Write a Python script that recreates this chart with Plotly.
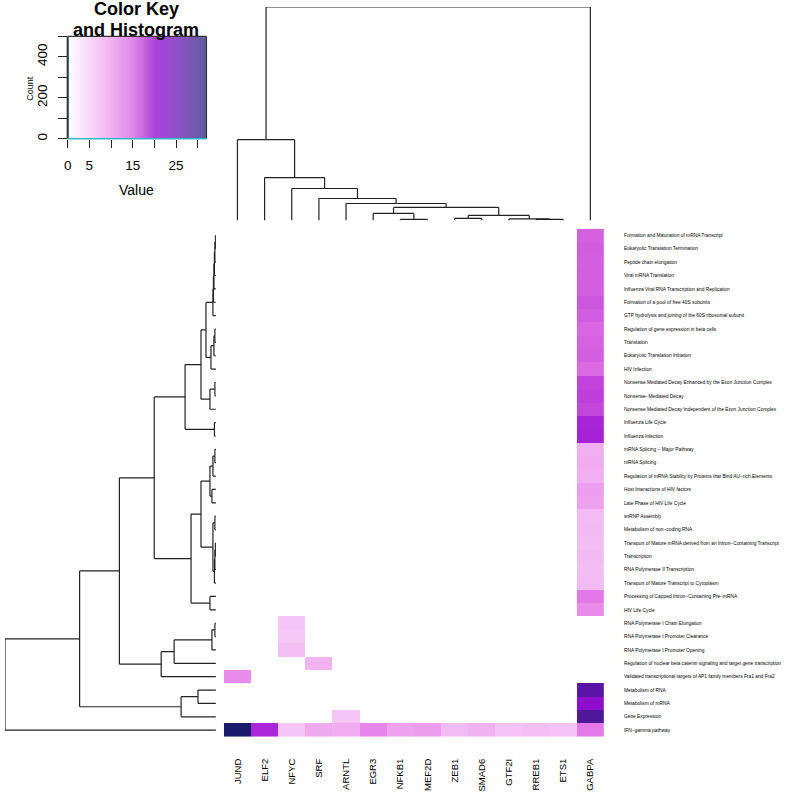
import numpy as np
import plotly.graph_objects as go

W, H = 785, 795

row_labels = [
    "Formation and Maturation of mRNA Transcript",
    "Eukaryotic Translation Termination",
    "Peptide chain elongation",
    "Viral mRNA Translation",
    "Influenza Viral RNA Transcription and Replication",
    "Formation of a pool of free 40S subunits",
    "GTP hydrolysis and joining of the 60S ribosomal subunit",
    "Regulation of gene expression in beta cells",
    "Translation",
    "Eukaryotic Translation Initiation",
    "HIV Infection",
    "Nonsense Mediated Decay Enhanced by the Exon Junction Complex",
    "Nonsense−Mediated Decay",
    "Nonsense Mediated Decay Independent of the Exon Junction Complex",
    "Influenza Life Cycle",
    "Influenza Infection",
    "mRNA Splicing − Major Pathway",
    "mRNA Splicing",
    "Regulation of mRNA Stability by Proteins that Bind AU−rich Elements",
    "Host Interactions of HIV factors",
    "Late Phase of HIV Life Cycle",
    "snRNP Assembly",
    "Metabolism of non−coding RNA",
    "Transport of Mature mRNA derived from an Intron−Containing Transcript",
    "Transcription",
    "RNA Polymerase II Transcription",
    "Transport of Mature Transcript to Cytoplasm",
    "Processing of Capped Intron−Containing Pre−mRNA",
    "HIV Life Cycle",
    "RNA Polymerase I Chain Elongation",
    "RNA Polymerase I Promoter Clearance",
    "RNA Polymerase I Promoter Opening",
    "Regulation of nuclear beta catenin signaling and target gene transcription",
    "Validated transcriptional targets of AP1 family members Fra1 and Fra2",
    "Metabolism of RNA",
    "Metabolism of mRNA",
    "Gene Expression",
    "IFN−gamma pathway",
]
col_labels = ["JUND", "ELF2", "NFYC", "SRF", "ARNTL", "EGR3", "NFKB1", "MEF2D",
              "ZEB1", "SMAD6", "GTF2I", "RREB1", "ETS1", "GABPA"]

# GABPA column (one value per row, top to bottom)
gabpa_values = [16.5, 16.8, 16.6, 16.7, 16.6, 17.3, 16.9, 15.8, 16.3, 16.6, 15.2,
                18.6, 18.9, 18.4, 21.2, 21.5, 9.0, 9.3, 9.1, 10.6, 10.2,
                8.0, 8.2, 7.9, 8.1, 7.8, 8.0, 13.2, 11.8,
                0, 0, 0, 0, 0, 27.0, 24.0, 28.5, 13.0]
# other non-zero cells: (row, column, value)
other_cells = [(29, "NFYC", 7.0), (30, "NFYC", 6.8), (31, "NFYC", 7.6),
               (32, "SRF", 8.6), (33, "JUND", 11.8), (36, "ARNTL", 7.0)]
# IFN-gamma pathway row (all columns)
ifn_row = [32.0, 21.0, 7.0, 9.6, 9.2, 12.2, 10.2, 10.6, 8.0, 8.8, 7.2, 7.6, 7.2, 13.0]

# dendrogram merges: (child_a, child_b, height); leaves are 0..n-1, node k is n+k
row_merges = [
    (0, 1, 0.5), (38, 2, 1.0), (39, 3, 1.5), (40, 4, 2.0), (41, 5, 2.5), (42, 6, 3.0),
    (7, 8, 1.0), (44, 9, 2.0), (45, 10, 5.0), (43, 46, 10.0),
    (11, 12, 1.0), (48, 13, 6.0), (47, 49, 15.0),
    (14, 15, 1.5), (50, 51, 31.0),
    (16, 17, 1.0), (53, 18, 3.0), (19, 20, 4.0), (54, 55, 6.0),
    (21, 22, 1.0), (23, 24, 0.5), (58, 25, 1.0), (59, 26, 1.5), (57, 60, 3.0),
    (56, 61, 15.0), (27, 28, 6.0), (62, 63, 25.0), (52, 64, 62.0),
    (29, 30, 1.0), (66, 31, 4.0), (67, 32, 42.0), (68, 33, 55.0), (65, 69, 97.0),
    (34, 35, 18.0), (71, 36, 35.0), (70, 72, 137.0), (73, 37, 212.0),
]
col_merges = [
    (6, 7, 1.0), (5, 14, 7.0), (8, 9, 2.0), (11, 12, 1.0), (10, 17, 1.5),
    (16, 18, 5.0), (15, 19, 13.0), (4, 20, 17.0), (3, 21, 22.0), (2, 22, 32.0),
    (1, 23, 43.0), (0, 24, 81.0), (25, 13, 214.0),
]

# ---------------------------------------------------------------- matrix
nr, nc = len(row_labels), len(col_labels)
Z = np.zeros((nr, nc))
Z[:, col_labels.index("GABPA")] = gabpa_values
for r, c, v in other_cells:
    Z[r, col_labels.index(c)] = v
Z[nr - 1, :] = ifn_row

zmax = 32.0
cell_stops = [(0, "#FFFFFF"), (7, "#F5C6F5"), (9, "#F0B0F0"), (11, "#EC98EC"),
              (13, "#E47AE8"), (16.5, "#D462E0"), (18.5, "#C244DB"), (21, "#AA26D8"),
              (24, "#8E0ECC"), (27, "#5A14A6"), (28.5, "#4F1898"), (32, "#1A1A6A")]
cell_scale = [[v / zmax, c] for v, c in cell_stops]
key_scale = [[0, "#FFFFFF"], [0.15, "#FADAFA"], [0.3, "#F3B4F3"], [0.47, "#DE88E6"],
             [0.63, "#AD42DC"], [0.8, "#8A52C4"], [1, "#5E5E9C"]]


def dendro_segments(merges, n, horizontal):
    pos = {i: float(i) for i in range(n)}
    hgt = {i: 0.0 for i in range(n)}
    xs, ys = [], []
    for k, (a, b, h) in enumerate(merges):
        node = n + k
        pa, pb = pos[a], pos[b]
        segs = [((pa, hgt[a]), (pa, h)), ((pb, hgt[b]), (pb, h)), ((pa, h), (pb, h))]
        for (p1, h1), (p2, h2) in segs:
            if horizontal:
                xs += [h1, h2, None]
                ys += [p1, p2, None]
            else:
                xs += [p1, p2, None]
                ys += [h1, h2, None]
        pos[node] = (pa + pb) / 2
        hgt[node] = h
    return xs, ys


fig = go.Figure()

# heatmap
fig.add_trace(go.Heatmap(z=Z, x=list(range(nc)), y=list(range(nr)), zmin=0, zmax=zmax,
                         colorscale=cell_scale, showscale=False, xaxis="x", yaxis="y",
                         hoverinfo="skip"))

# column dendrogram
cx, cy = dendro_segments(col_merges, nc, horizontal=False)
fig.add_trace(go.Scatter(x=cx, y=cy, mode="lines", line=dict(color="#222222", width=1.2),
                         xaxis="x3", yaxis="y3", hoverinfo="skip"))
# row dendrogram
rx, ry = dendro_segments(row_merges, nr, horizontal=True)
fig.add_trace(go.Scatter(x=rx, y=ry, mode="lines", line=dict(color="#222222", width=1.2),
                         xaxis="x4", yaxis="y4", hoverinfo="skip"))

# color key gradient (x and y given as cell edges)
kx = np.linspace(0, zmax, 321)
kc = (kx[:-1] + kx[1:]) / 2
fig.add_trace(go.Heatmap(z=[list(kc)], x=list(kx), y=[0, 500], zmin=0, zmax=zmax,
                         colorscale=key_scale, showscale=False, xaxis="x2", yaxis="y2",
                         hoverinfo="skip"))
# histogram of values
counts, edges = np.histogram(Z.ravel(), bins=kx)
hx = list(edges[:-1]) + [edges[-1]]
hy = list(counts) + [counts[-1]]
fig.add_trace(go.Scatter(x=hx, y=hy, mode="lines", line=dict(color="cyan", width=1, shape="hv"),
                         xaxis="x2", yaxis="y2", hoverinfo="skip"))

FONT = "Liberation Sans, Arial, Helvetica, sans-serif"


def px_dom_x(a, b):
    return [a / W, b / W]


def px_dom_y(top, bottom):
    return [1 - bottom / H, 1 - top / H]


hm_x = px_dom_x(221, 603)
hm_y = px_dom_y(229.3, 738.7)

fig.update_layout(
    width=W, height=H, margin=dict(l=0, r=0, t=0, b=0),
    paper_bgcolor="white", plot_bgcolor="white", showlegend=False,
    font=dict(family=FONT, color="black"),
    xaxis=dict(domain=hm_x, range=[-0.5, nc - 0.5], anchor="y", tickmode="array",
               tickvals=list(range(nc)), ticktext=col_labels, tickangle=-90,
               ticks="", ticklabelstandoff=19, tickfont=dict(size=9.5, family=FONT),
               showgrid=False, zeroline=False, showline=False, fixedrange=True),
    yaxis=dict(domain=hm_y, range=[nr - 0.5, -0.5], anchor="x", side="right",
               tickmode="array", tickvals=list(range(nr)), ticktext=row_labels,
               ticks="", ticklabelstandoff=19, tickfont=dict(size=4.85, family=FONT),
               showgrid=False, zeroline=False, showline=False, fixedrange=True),
    xaxis2=dict(domain=px_dom_x(64, 203.5), range=[0, zmax], anchor="y2",
                tickmode="array", tickvals=[0, 5, 10, 15, 20, 25, 30],
                ticktext=["0", "5", "", "15", "", "25", ""],
                ticks="outside", ticklen=8, tickwidth=1, tickcolor="#222222",
                ticklabelstandoff=6, tickfont=dict(size=13.5, family=FONT),
                showline=False, showgrid=False, zeroline=False),
    yaxis2=dict(domain=px_dom_y(36.5, 139), range=[0, 500], anchor="x2",
                tickmode="array", tickvals=[0, 100, 200, 300, 400, 500],
                ticktext=["0", "", "200", "", "400", ""], tickangle=-90,
                ticks="outside", ticklen=9, tickwidth=1, tickcolor="#222222",
                ticklabelstandoff=5, tickfont=dict(size=13.5, family=FONT),
                showline=False, showgrid=False, zeroline=False),
    xaxis3=dict(domain=hm_x, range=[-0.5, nc - 0.5], anchor="y3", visible=False),
    yaxis3=dict(domain=px_dom_y(7, 221), range=[0, 214], anchor="x3", visible=False),
    xaxis4=dict(domain=px_dom_x(1, 213), range=[212, 0], anchor="y4", visible=False),
    yaxis4=dict(domain=hm_y, range=[nr - 0.5, -0.5], anchor="x4", visible=False),
    shapes=[
        # left/top/right frame of the key (bottom edge shows the histogram baseline)
        dict(type="line", xref="x2 domain", yref="y2 domain", x0=0, x1=0, y0=0, y1=1,
             line=dict(color="#333333", width=2), layer="above"),
        dict(type="line", xref="x2 domain", yref="y2 domain", x0=0, x1=1, y0=1, y1=1,
             line=dict(color="#333333", width=1.2), layer="above"),
        dict(type="line", xref="x2 domain", yref="y2 domain", x0=1, x1=1, y0=0, y1=1,
             line=dict(color="#333333", width=1.2), layer="above"),
        dict(type="line", xref="x2 domain", yref="y2 domain", x0=0, x1=1, y0=0, y1=0,
             line=dict(color="#33BBCC", width=1.5), layer="above"),
    ],
    annotations=[
        dict(text="<b>Color Key</b>", x=133 / W, y=1 - 9 / H, xref="paper", yref="paper",
             showarrow=False, font=dict(size=18, family=FONT), xanchor="center", yanchor="middle"),
        dict(text="<b>and Histogram</b>", x=133 / W, y=1 - 30 / H, xref="paper", yref="paper",
             showarrow=False, font=dict(size=18, family=FONT), xanchor="center", yanchor="middle"),
        dict(text="Value", x=133 / W, y=1 - 190 / H, xref="paper", yref="paper",
             showarrow=False, font=dict(size=14, family=FONT), xanchor="center", yanchor="middle"),
        dict(text="Count", x=26 / W, y=1 - 88 / H, xref="paper", yref="paper", textangle=-90,
             showarrow=False, font=dict(size=9, family=FONT), xanchor="center", yanchor="middle"),
    ],
)

fig.write_html("out.html", config={"displayModeBar": False},
               post_script="document.body.style.margin='0px';document.body.style.overflow='hidden';")
